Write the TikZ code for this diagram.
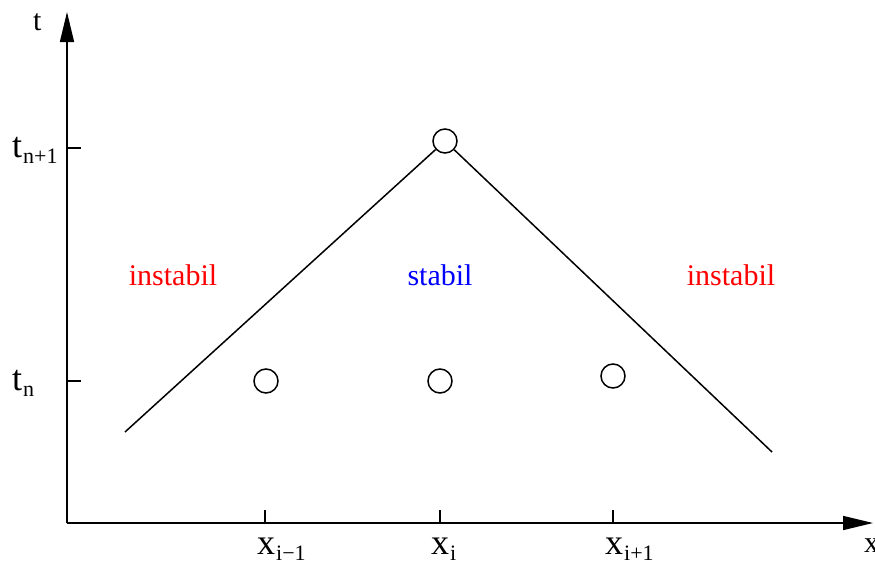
\documentclass[tikz,border=0pt]{standalone}
\usepackage{fontspec}
\setmainfont{Liberation Serif}
\usetikzlibrary{arrows.meta}
\newcommand{\lbl}[2]{#1\kern1pt\raisebox{-6pt}{\fontsize{22}{22}\selectfont #2}}
\begin{document}
\begin{tikzpicture}[x=1pt,y=-1pt,
  ax/.style={line width=1.6pt,-{Triangle[length=30pt,width=14pt]}},
  tick/.style={line width=1.6pt},
  ln/.style={line width=1.5pt},
  pt/.style={circle,draw,line width=1.5pt,minimum size=24pt,inner sep=0pt},
  big/.style={font=\fontsize{36}{36}\selectfont,inner sep=0pt},
  reg/.style={font=\fontsize{30}{30}\selectfont,inner sep=0pt}]
\useasboundingbox (0,0) rectangle (875,562);
\coordinate (O) at (67,523);
\coordinate (T) at (67,12);
\coordinate (X) at (873,523);
\draw[ax] (O) -- (T);
\draw[ax] (O) -- (X);
% ticks
\coordinate (ty1a) at (67,148); \coordinate (ty1b) at (81,148);
\coordinate (ty0a) at (67,381); \coordinate (ty0b) at (81,381);
\draw[tick] (ty1a) -- (ty1b);
\draw[tick] (ty0a) -- (ty0b);
\coordinate (tx1a) at (265,523); \coordinate (tx1b) at (265,510);
\coordinate (tx2a) at (440,523); \coordinate (tx2b) at (440,510);
\coordinate (tx3a) at (613,523); \coordinate (tx3b) at (613,510);
\draw[tick] (tx1a) -- (tx1b);
\draw[tick] (tx2a) -- (tx2b);
\draw[tick] (tx3a) -- (tx3b);
% axis labels
\node[reg,anchor=base west] (tl) at (33,30) {t};
\node[reg,anchor=base west] (xl) at (864,552) {x};
\node[big,anchor=base west] (tn1) at (12,157) {\lbl{t}{n+1}};
\node[big,anchor=base west] (tn) at (12,390) {\lbl{t}{n}};
\node[big,anchor=base west] (xim) at (257,554) {\lbl{x}{i−1}};
\node[big,anchor=base west] (xi) at (431,554) {\lbl{x}{i}};
\node[big,anchor=base west] (xip) at (605,554) {\lbl{x}{i+1}};
% points
\node[pt] (top) at (445,141) {};
\node[pt] (p1) at (266,381) {};
\node[pt] (p2) at (440,381) {};
\node[pt] (p3) at (613,376) {};
\coordinate (L) at (125,432);
\coordinate (R) at (772,452);
\draw[ln] (L) -- (top);
\draw[ln] (top) -- (R);
% region labels
\node[reg,text=red,anchor=base] (r1) at (173,285) {instabil};
\node[reg,text=blue,anchor=base] (r2) at (440,285) {stabil};
\node[reg,text=red,anchor=base] (r3) at (731,285) {instabil};
\end{tikzpicture}
\end{document}
